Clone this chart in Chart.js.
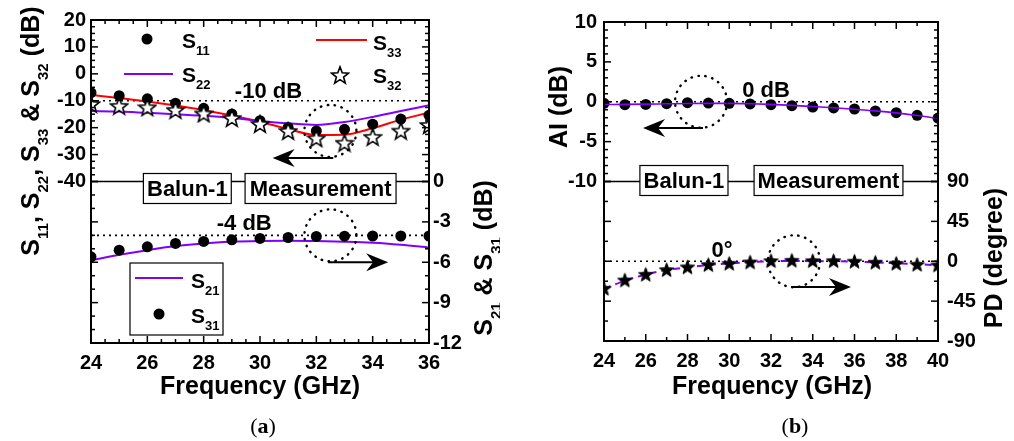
<!DOCTYPE html>
<html lang="en">
<head>
<meta charset="UTF-8">
<title>Balun-1 measurement</title>
<script src="https://cdn.jsdelivr.net/npm/chart.js"></script>
<style>
    body { margin: 0; background: #ffffff; }
    .wrap { position: relative; width: 1014px; height: 441px; }
    canvas { position: absolute; top: 0; }
    #chartA { left: 0; }
    #chartB { left: 500px; }
</style>
</head>
<body>
<div class="wrap">
    <canvas id="chartA" width="500" height="441"></canvas>
    <canvas id="chartB" width="514" height="441"></canvas>
</div>
<script>
// ---- data, panel (a) ----
const freqA = [24, 25, 26, 27, 28, 29, 30, 31, 32, 33, 34, 35, 36];
const s11 = [-7.0, -8.1, -9.3, -10.9, -12.8, -14.9, -17.4, -19.9, -21.2, -20.6, -18.7, -16.8, -15.4];
const s33 = [-7.8, -9.0, -10.3, -11.8, -13.5, -15.5, -17.8, -20.5, -22.7, -22.6, -20.2, -17.0, -14.4];
const s22 = [-13.8, -14.0, -14.5, -15.0, -15.6, -16.4, -17.5, -18.4, -19.0, -17.9, -16.0, -13.8, -11.7];
const s32 = [-11.2, -11.9, -12.4, -13.4, -14.7, -16.4, -18.6, -21.2, -23.9, -25.6, -23.4, -21.1, -19.0];
const s21 = [-5.85, -5.45, -5.1, -4.8, -4.6, -4.48, -4.42, -4.4, -4.42, -4.47, -4.55, -4.7, -4.9];
const s31 = [-5.6, -5.1, -4.85, -4.6, -4.45, -4.33, -4.23, -4.16, -4.08, -4.06, -4.05, -4.05, -4.05];

// ---- data, panel (b) ----
const freqB = [24, 25, 26, 27, 28, 29, 30, 31, 32, 33, 34, 35, 36, 37, 38, 39, 40];
const aiDots = [-0.2, -0.37, -0.33, -0.24, -0.12, -0.16, -0.2, -0.28, -0.37, -0.49, -0.66, -0.78, -0.91, -1.16, -1.37, -1.7, -2.04];
const aiLine = [-0.35, -0.33, -0.3, -0.26, -0.22, -0.2, -0.2, -0.25, -0.33, -0.45, -0.6, -0.76, -0.95, -1.15, -1.4, -1.72, -2.1];
const pdStars = [-30.5, -21.1, -14.7, -9.5, -6.4, -3.8, -2.3, -0.8, 0.7, 1.1, 0.7, 0.7, 0, -1.1, -2.3, -3.4, -4.2];
const pdLine = [-31, -22, -15, -10, -6.8, -4.2, -2.5, -1, 0, 0.3, 0.2, 0, -0.5, -1.3, -2.3, -3.3, -4.5];

const FONT = '"Liberation Sans", Arial, Helvetica, sans-serif';
const PURPLE = '#8000ff';
const bold = size => 'bold ' + size + 'px ' + FONT;
const pts = (xs, ys) => xs.map((x, i) => ({ x: x, y: ys[i] }));

function starImg(size, fill, lw) {
    const c = document.createElement('canvas');
    c.width = c.height = size;
    const g = c.getContext('2d');
    const R = size / 2 - 1, r = R * 0.42, cx = size / 2, cy = size / 2 + R * 0.1;
    g.beginPath();
    for (let i = 0; i < 10; i++) {
        const a = -Math.PI / 2 + i * Math.PI / 5;
        const rr = i % 2 ? r : R;
        g.lineTo(cx + rr * Math.cos(a), cy + rr * Math.sin(a));
    }
    g.closePath();
    g.fillStyle = fill;
    g.fill();
    g.lineWidth = lw;
    g.lineJoin = 'miter';
    g.strokeStyle = '#000';
    g.stroke();
    return c;
}
const hollowStar = starImg(20, '#ffffff', 1.6);
const solidStar = starImg(17, '#000000', 1);

// text with subscripts: parts starting with '_' are subscripts
function richWidth(ctx, parts, size) {
    let w = 0;
    parts.forEach(p => {
        const sub = p[0] === '_';
        ctx.font = bold(sub ? Math.round(size * 0.6) : size);
        w += ctx.measureText(sub ? p.slice(1) : p).width;
    });
    return w;
}
function drawRich(ctx, parts, x, y, size, align) {
    let cx = align === 'center' ? x - richWidth(ctx, parts, size) / 2 : x;
    ctx.textAlign = 'left';
    ctx.textBaseline = 'alphabetic';
    ctx.fillStyle = '#000';
    parts.forEach(p => {
        const sub = p[0] === '_';
        const t = sub ? p.slice(1) : p;
        ctx.font = bold(sub ? Math.round(size * 0.6) : size);
        ctx.fillText(t, cx, sub ? y + size * 0.34 : y);
        cx += ctx.measureText(t).width;
    });
}
function rotTitle(ctx, parts, cx, cy, size) {
    ctx.save();
    ctx.translate(cx, cy);
    ctx.rotate(-Math.PI / 2);
    drawRich(ctx, parts, 0, size * 0.36, size, 'center');
    ctx.restore();
}

function seg(ctx, x0, y0, x1, y1) {
    ctx.beginPath();
    ctx.moveTo(x0, y0);
    ctx.lineTo(x1, y1);
    ctx.stroke();
}

function arrow(ctx, x0, x1, y) {
    const dir = x1 > x0 ? 1 : -1;
    ctx.lineWidth = 2;
    seg(ctx, x0, y, x1 - dir * 12, y);
    ctx.beginPath();
    ctx.moveTo(x1, y);
    ctx.lineTo(x1 - dir * 22, y - 9);
    ctx.lineTo(x1 - dir * 15, y);
    ctx.lineTo(x1 - dir * 22, y + 9);
    ctx.closePath();
    ctx.fill();
}

function decor(spec) {
    return {
        id: 'decor' + spec.name,
        beforeDatasetsDraw(chart) {
            const ctx = chart.ctx, area = chart.chartArea;
            ctx.save();
            ctx.strokeStyle = '#000';
            ctx.lineWidth = 1.6;
            ctx.setLineDash([2, 4]);
            spec.refLines.forEach(r => {
                const y = chart.scales[r.axis].getPixelForValue(r.value);
                seg(ctx, area.left, y, area.right, y);
            });
            ctx.restore();
        },
        afterDatasetsDraw(chart) {
            const ctx = chart.ctx, area = chart.chartArea, sx = chart.scales.x;
            ctx.save();
            ctx.strokeStyle = '#000';
            ctx.fillStyle = '#000';

            // inward ticks
            ctx.lineWidth = 1.5;
            const xt = spec.xTicks;
            for (let i = 0; i <= Math.round((xt.max - xt.min) / xt.minor); i++) {
                const v = xt.min + i * xt.minor;
                const len = Math.abs(v / xt.major - Math.round(v / xt.major)) < 1e-6 ? 7 : 4;
                const x = sx.getPixelForValue(v);
                seg(ctx, x, area.bottom, x, area.bottom - len);
                seg(ctx, x, area.top, x, area.top + len);
            }
            spec.yTicks.forEach(t => {
                const sc = chart.scales[t.axis];
                for (let i = 0; i <= Math.round((t.hi - t.lo) / t.minor); i++) {
                    const v = t.lo + i * t.minor;
                    const len = Math.abs(v / t.major - Math.round(v / t.major)) < 1e-6 ? 7 : 4;
                    const y = sc.getPixelForValue(v);
                    seg(ctx, area.left, y, area.left + len, y);
                    seg(ctx, area.right, y, area.right - len, y);
                }
            });

            // split line between the two layers
            const ys = chart.scales[spec.split.axis].getPixelForValue(spec.split.value);
            ctx.lineWidth = 1.5;
            seg(ctx, area.left, ys, area.right, ys);

            // frame
            ctx.lineWidth = 2;
            ctx.strokeRect(area.left, area.top, area.right - area.left, area.bottom - area.top);

            // label boxes on the split line
            ctx.font = bold(22);
            ctx.textAlign = 'center';
            ctx.textBaseline = 'middle';
            spec.boxes.forEach(b => {
                const x0 = sx.getPixelForValue(b.x0), x1 = sx.getPixelForValue(b.x1);
                const yc = ys + spec.boxShift;
                ctx.fillStyle = '#fff';
                ctx.fillRect(x0, yc - 15, x1 - x0, 30);
                ctx.lineWidth = 1.2;
                ctx.strokeRect(x0, yc - 15, x1 - x0, 30);
                ctx.fillStyle = '#000';
                ctx.fillText(b.text, (x0 + x1) / 2, yc + 1);
            });

            // dotted circles
            ctx.lineWidth = 2.4;
            ctx.lineCap = 'round';
            ctx.setLineDash([0.5, 6.5]);
            spec.circles.forEach(c => {
                ctx.beginPath();
                ctx.ellipse(sx.getPixelForValue(c.x), chart.scales[c.axis].getPixelForValue(c.y), 26, 26, 0, 0, Math.PI * 2);
                ctx.stroke();
            });
            ctx.setLineDash([]);
            ctx.lineCap = 'butt';

            // arrows
            spec.arrows.forEach(a => {
                arrow(ctx, sx.getPixelForValue(a.x0), sx.getPixelForValue(a.x1), chart.scales[a.axis].getPixelForValue(a.y));
            });

            // notes
            ctx.font = bold(22);
            ctx.textAlign = 'center';
            ctx.textBaseline = 'alphabetic';
            spec.notes.forEach(n => {
                ctx.fillText(n.text, sx.getPixelForValue(n.x), chart.scales[n.axis].getPixelForValue(n.y) + n.dy);
            });

            spec.extra(ctx, chart);
            ctx.restore();
        }
    };
}

function legendA(ctx) {
    // upper legend
    ctx.fillStyle = '#000';
    ctx.beginPath(); ctx.arc(147, 39, 5.5, 0, Math.PI * 2); ctx.fill();
    drawRich(ctx, ['S', '_11'], 182, 48, 21);
    ctx.strokeStyle = '#ff0000'; ctx.lineWidth = 2;
    seg(ctx, 316, 40, 367, 40);
    drawRich(ctx, ['S', '_33'], 373, 50, 21);
    ctx.strokeStyle = PURPLE;
    seg(ctx, 124, 74, 173, 74);
    drawRich(ctx, ['S', '_22'], 182, 82, 21);
    ctx.drawImage(hollowStar, 340 - 10, 75 - 10);
    drawRich(ctx, ['S', '_32'], 373, 83, 21);

    // lower legend box
    ctx.strokeStyle = '#000'; ctx.lineWidth = 1.2;
    ctx.strokeRect(130, 263, 93, 72);
    ctx.strokeStyle = PURPLE; ctx.lineWidth = 2;
    seg(ctx, 135, 278, 183, 278);
    drawRich(ctx, ['S', '_21'], 191, 288, 21);
    ctx.fillStyle = '#000';
    ctx.beginPath(); ctx.arc(159, 314, 5.5, 0, Math.PI * 2); ctx.fill();
    drawRich(ctx, ['S', '_31'], 191, 323, 21);
}

function caption(ctx, letter, cx) {
    ctx.fillStyle = '#000';
    ctx.textBaseline = 'alphabetic';
    ctx.textAlign = 'left';
    const serif = '"Liberation Serif", "Times New Roman", serif';
    ctx.font = '22px ' + serif;
    const wp = ctx.measureText('(').width;
    ctx.font = 'bold 22px ' + serif;
    const wl = ctx.measureText(letter).width;
    let x = cx - (wp * 2 + wl) / 2;
    ctx.font = '22px ' + serif;
    ctx.fillText('(', x, 433);
    ctx.font = 'bold 22px ' + serif;
    ctx.fillText(letter, x + wp, 433);
    ctx.font = '22px ' + serif;
    ctx.fillText(')', x + wp + wl, 433);
}

function xAxis(min, max, height) {
    return {
        type: 'linear', position: 'bottom', min: min, max: max,
        ticks: { stepSize: 2, padding: 8, maxRotation: 0, autoSkip: false, color: '#000', font: { size: 20, weight: 'bold' } },
        grid: { display: false, drawTicks: false },
        border: { display: false },
        afterFit: s => { s.height = height; }
    };
}
function yAxis(pos, min, max, step, show, width, pad) {
    return {
        type: 'linear', position: pos, min: min, max: max,
        ticks: { stepSize: step, padding: pad, color: '#000', font: { size: 20, weight: 'bold' },
            callback: v => (show(v) ? v : null) },
        grid: { display: false, drawTicks: false },
        border: { display: false },
        afterFit: s => { s.width = width; }
    };
}

Chart.defaults.font.family = FONT;
Chart.defaults.color = '#000';

const baseOpts = {
    responsive: false,
    animation: false,
    devicePixelRatio: 1,
    events: [],
    plugins: { legend: { display: false }, tooltip: { enabled: false } }
};

const lineSet = (data, color, axis, extra) => Object.assign({
    data: data, yAxisID: axis, borderColor: color, borderWidth: 2, pointRadius: 0,
    tension: 0.4, cubicInterpolationMode: 'monotone', fill: false, clip: 0
}, extra || {});
const dotSet = (data, axis, style, extra) => Object.assign({
    data: data, yAxisID: axis, showLine: false, pointStyle: style, pointRadius: 5.5,
    pointBackgroundColor: '#000', pointBorderColor: '#000', pointBorderWidth: 0, clip: 0
}, extra || {});

const specA = {
    name: 'A',
    split: { axis: 'yL', value: -40 },
    xTicks: { min: 24, max: 36, major: 2, minor: 0.5 },
    yTicks: [
        { axis: 'yL', lo: -40, hi: 20, major: 10, minor: 2.5 },
        { axis: 'yR', lo: -12, hi: 0, major: 3, minor: 1 }
    ],
    refLines: [{ axis: 'yL', value: -10 }, { axis: 'yR', value: -4 }],
    boxShift: 7,
    boxes: [{ text: 'Balun-1', x0: 25.86, x1: 28.98 }, { text: 'Measurement', x0: 29.47, x1: 34.83 }],
    circles: [{ x: 32.5, y: -21.2, axis: 'yL' }, { x: 32.5, y: -4, axis: 'yR' }],
    arrows: [{ x0: 32.6, x1: 30.45, y: -31.3, axis: 'yL' }, { x0: 32.42, x1: 34.55, y: -6, axis: 'yR' }],
    notes: [{ text: '-10 dB', x: 30.3, y: -10, axis: 'yL', dy: -3 }, { text: '-4 dB', x: 29.44, y: -4, axis: 'yR', dy: -5 }],
    extra: (ctx, chart) => {
        legendA(ctx);
        rotTitle(ctx, ['S', '_11', ', S', '_22', ', S', '_33', ' & S', '_32', ' (dB)'], 30, 131, 25);
        rotTitle(ctx, ['S', '_21', ' & S', '_31', ' (dB)'], 483, 258, 25);
        drawRich(ctx, ['Frequency (GHz)'], 260, 394, 25, 'center');
        caption(ctx, 'a', 263);
    }
};

new Chart(document.getElementById('chartA'), {
    type: 'line',
    data: {
        datasets: [
            lineSet(pts(freqA, s33), '#ff0000', 'yL', { order: 5 }),
            lineSet(pts(freqA, s22), PURPLE, 'yL', { order: 4 }),
            dotSet(pts(freqA, s11), 'yL', 'circle', { order: 3 }),
            dotSet(pts(freqA, s32), 'yL', hollowStar, { order: 2 }),
            lineSet(pts(freqA, s21), PURPLE, 'yR', { order: 6 }),
            dotSet(pts(freqA, s31), 'yR', 'circle', { order: 1 })
        ]
    },
    options: Object.assign({}, baseOpts, {
        layout: { padding: { left: 0, right: 0, top: 20, bottom: 0 } },
        scales: {
            x: xAxis(24, 36, 98),
            yL: yAxis('left', -100, 20, 10, v => v >= -40, 91, 5),
            yR: yAxis('right', -12, 12, 3, v => v <= 0, 71, 4)
        }
    }),
    plugins: [decor(specA)]
});

const specB = {
    name: 'B',
    split: { axis: 'yL', value: -10 },
    xTicks: { min: 24, max: 40, major: 2, minor: 1 },
    yTicks: [
        { axis: 'yL', lo: -10, hi: 10, major: 5, minor: 1 },
        { axis: 'yR', lo: -90, hi: 90, major: 45, minor: 22.5 }
    ],
    refLines: [{ axis: 'yL', value: 0 }, { axis: 'yR', value: 0 }],
    boxShift: -1,
    boxes: [{ text: 'Balun-1', x0: 25.72, x1: 29.94 }, { text: 'Measurement', x0: 31.19, x1: 38.32 }],
    circles: [{ x: 28.65, y: 0, axis: 'yL' }, { x: 33.1, y: 0, axis: 'yR' }],
    arrows: [{ x0: 28.74, x1: 25.87, y: -3.3, axis: 'yL' }, { x0: 32.96, x1: 35.83, y: -29, axis: 'yR' }],
    notes: [{ text: '0 dB', x: 31.76, y: 0, axis: 'yL', dy: -5 }, { text: '0°', x: 29.65, y: 0, axis: 'yR', dy: -4 }],
    extra: (ctx, chart) => {
        rotTitle(ctx, ['AI (dB)'], 58, 107, 25);
        rotTitle(ctx, ['PD (degree)'], 493, 258, 25);
        drawRich(ctx, ['Frequency (GHz)'], 272, 394, 25, 'center');
        caption(ctx, 'b', 295);
    }
};

new Chart(document.getElementById('chartB'), {
    type: 'line',
    data: {
        datasets: [
            lineSet(pts(freqB, aiLine), PURPLE, 'yL', { order: 1, borderWidth: 1.6 }),
            dotSet(pts(freqB, aiDots), 'yL', 'circle', { order: 2, pointRadius: 5.5 }),
            lineSet(pts(freqB, pdLine), PURPLE, 'yR', { order: 4, borderDash: [7, 5] }),
            dotSet(pts(freqB, pdStars), 'yR', solidStar, { order: 3 })
        ]
    },
    options: Object.assign({}, baseOpts, {
        layout: { padding: { left: 0, right: 0, top: 22, bottom: 0 } },
        scales: {
            x: xAxis(24, 40, 100),
            yL: yAxis('left', -30, 10, 5, v => v >= -10, 104, 7),
            yR: yAxis('right', -90, 270, 45, v => v <= 90, 76, 9)
        }
    }),
    plugins: [decor(specB)]
});
</script>
</body>
</html>
